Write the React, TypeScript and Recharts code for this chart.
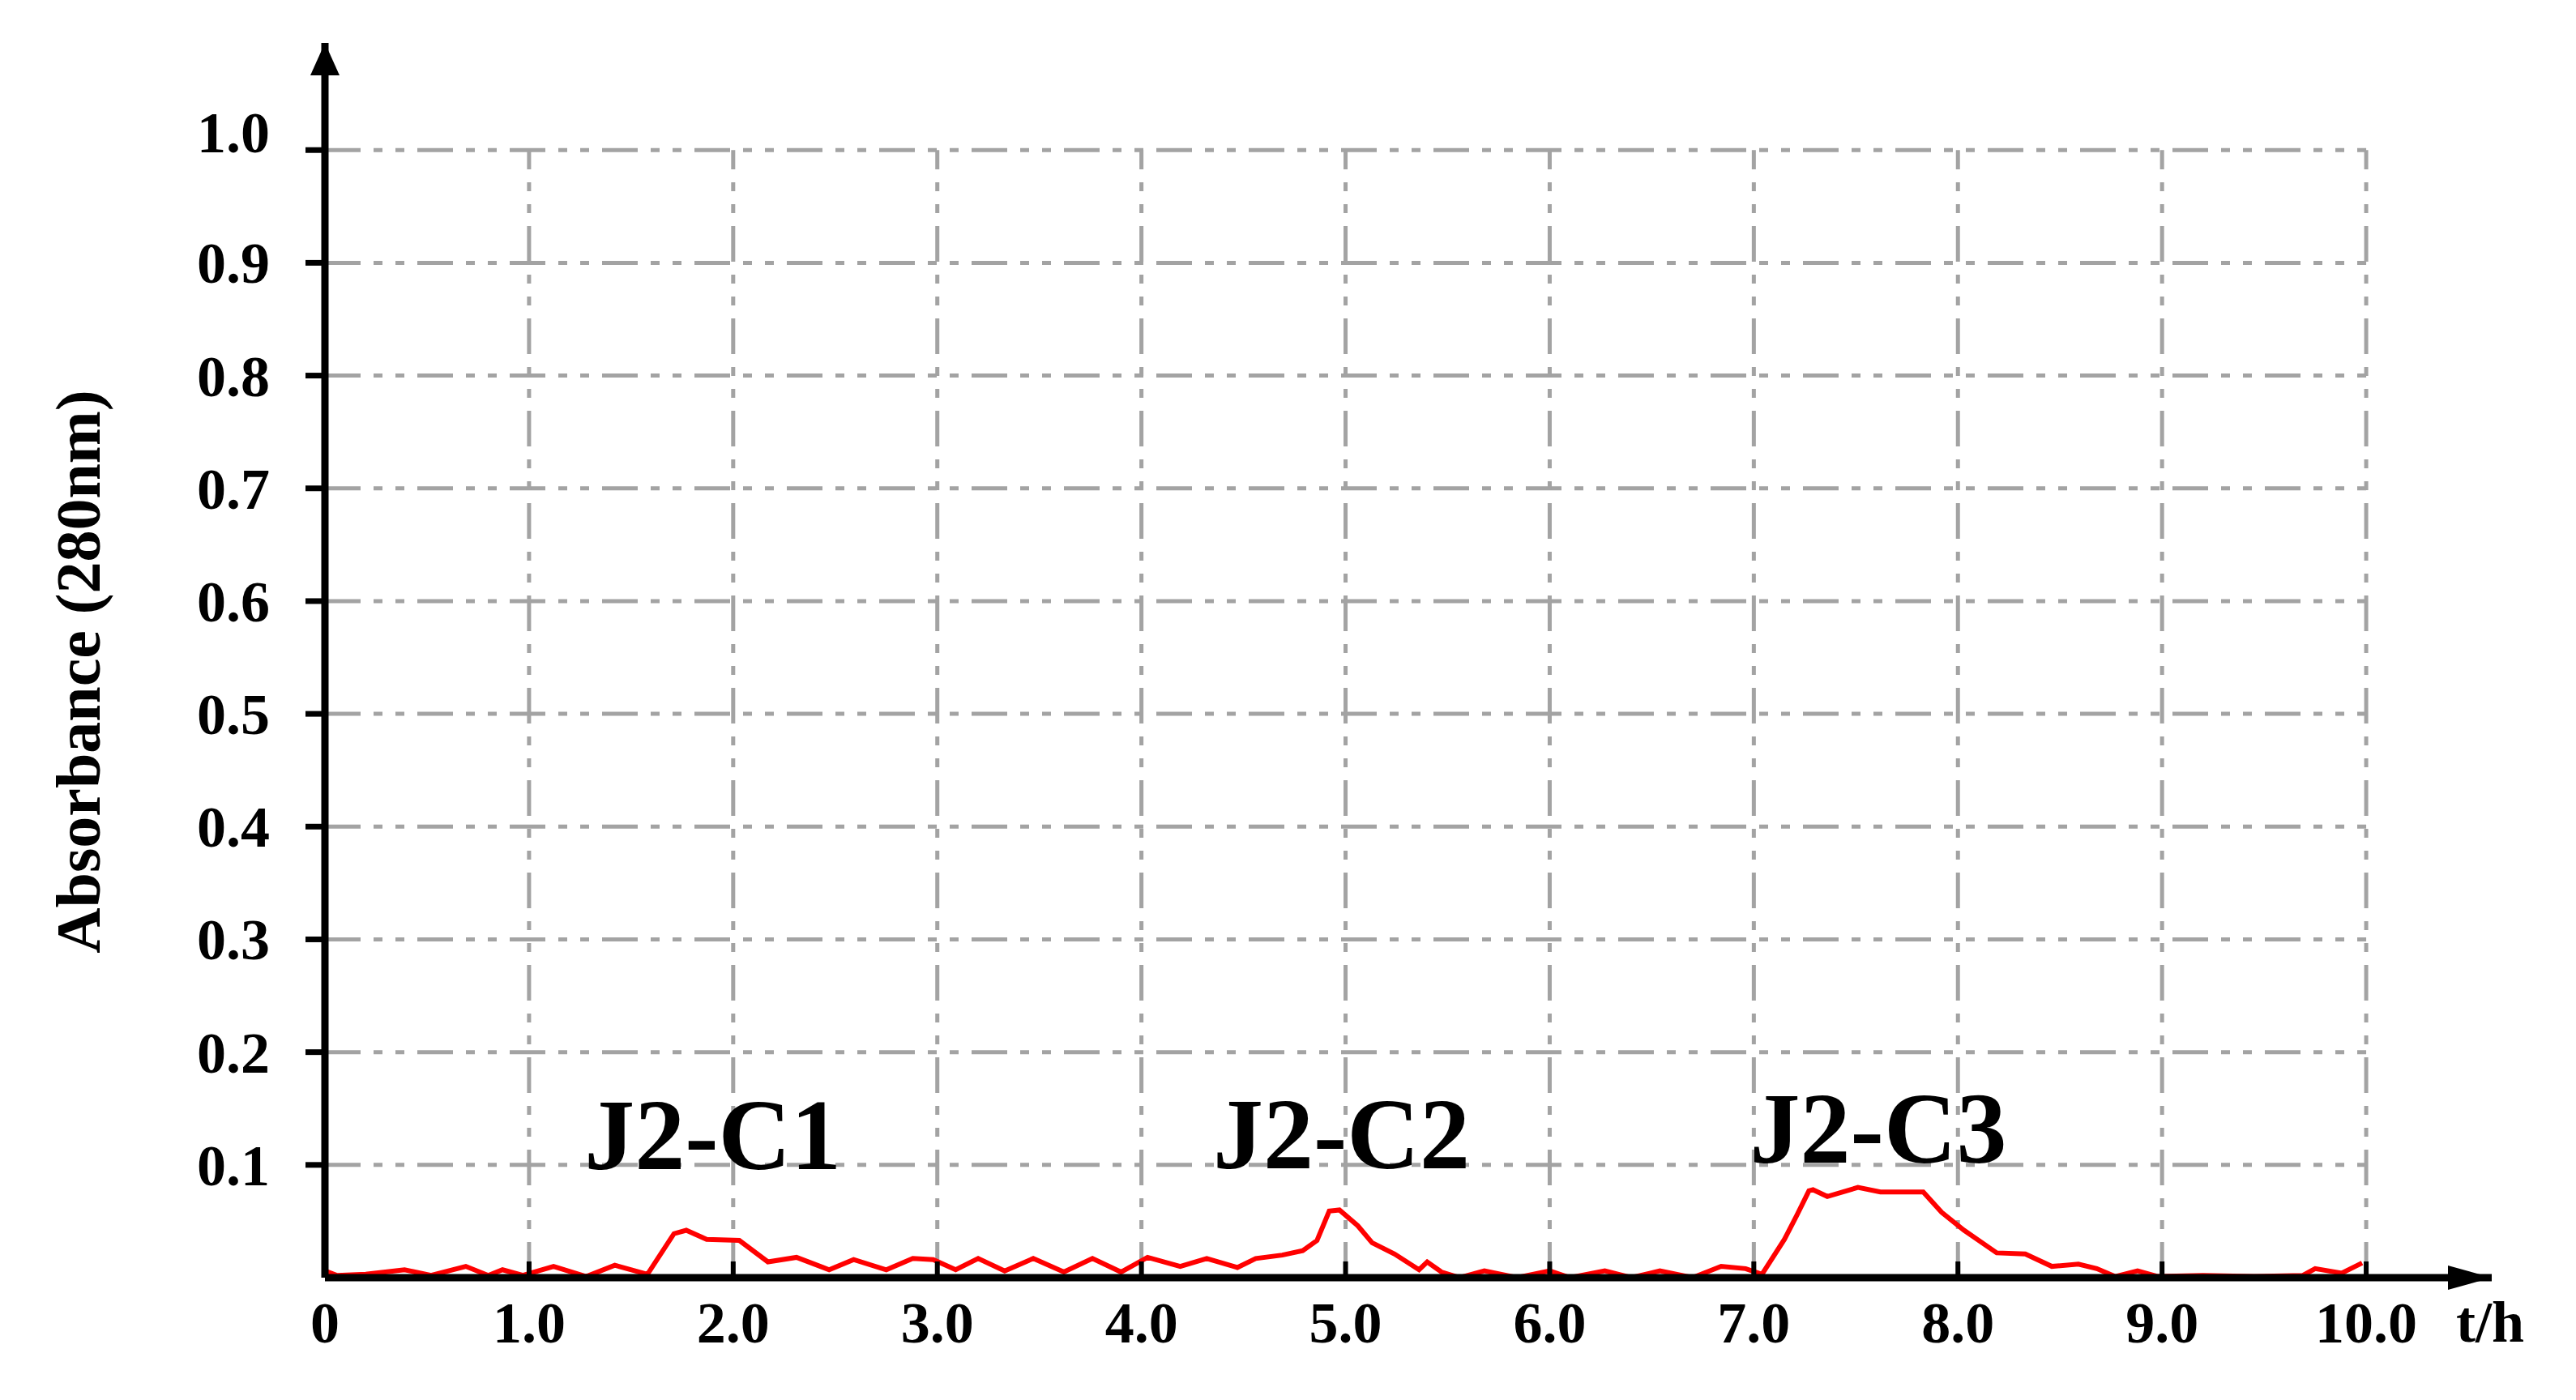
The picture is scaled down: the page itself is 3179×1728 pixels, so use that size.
import { LineChart, Line, XAxis, YAxis, ReferenceLine, ReferenceDot } from 'recharts';

// elution time (h) and absorbance at 280 nm
const times = [
  0, 0.06, 0.2, 0.39, 0.52, 0.69, 0.8, 0.87, 0.97, 1.12, 1.28, 1.42, 1.58, 1.71, 1.77, 1.87,
  2.03, 2.17, 2.31, 2.47, 2.59, 2.75, 2.88, 2.98, 3.09, 3.2, 3.33, 3.47, 3.62, 3.76, 3.9, 4.03,
  4.19, 4.32, 4.47, 4.56, 4.69, 4.79, 4.86, 4.92, 4.97, 5.06, 5.13, 5.24, 5.36, 5.4, 5.47, 5.56,
  5.68, 5.84, 6.0, 6.1, 6.27, 6.4, 6.54, 6.7, 6.84, 6.96, 7.04, 7.15, 7.21, 7.27, 7.29, 7.36,
  7.51, 7.62, 7.83, 7.92, 8.03, 8.19, 8.33, 8.46, 8.59, 8.68, 8.77, 8.88, 8.98, 9.2, 9.45, 9.69,
  9.75, 9.88, 9.98,
];
const absorbance = [
  0.006, 0.002, 0.003, 0.007, 0.002, 0.01, 0.002, 0.007, 0.002, 0.01, 0.001, 0.011, 0.003, 0.039, 0.042, 0.034,
  0.033, 0.014, 0.018, 0.007, 0.016, 0.007, 0.017, 0.016, 0.007, 0.017, 0.006, 0.017, 0.005, 0.017, 0.005, 0.018,
  0.01, 0.017, 0.009, 0.017, 0.02, 0.024, 0.033, 0.059, 0.06, 0.046, 0.031, 0.021, 0.007, 0.014, 0.005, 0.0,
  0.006, 0.0, 0.006, 0.0, 0.006, 0.0, 0.006, 0.0, 0.01, 0.008, 0.003, 0.034, 0.055, 0.077, 0.078, 0.072,
  0.08, 0.076, 0.076, 0.058, 0.042, 0.022, 0.021, 0.01, 0.012, 0.008, 0.001, 0.006, 0.001, 0.002, 0.001, 0.002,
  0.008, 0.004, 0.013,
];

const xTicks = [0, 1, 2, 3, 4, 5, 6, 7, 8, 9, 10];
const yTicks = [0.1, 0.2, 0.3, 0.4, 0.5, 0.6, 0.7, 0.8, 0.9, 1.0];
const peakNames = ['J2-C1', 'J2-C2', 'J2-C3'];
const peakX = [1.9, 4.98, 7.61];
const peakY = [0.096, 0.097, 0.102];

const X_MAX = 10.615;
const Y_MAX = 1.095;

const rows = times.map((t, i) => ({ t, a: absorbance[i] }));

const FONT = '"Liberation Serif", "Times New Roman", serif';
const GRID = { stroke: '#a3a3a3', strokeWidth: 5, strokeDasharray: '44 16 11 16 11 16' };

const fmtX = (v: number) => (v === 0 ? '0' : v.toFixed(1));

const YTick = (props: any) => {
  const { x, y, payload } = props;
  const lift = payload.value >= 1 ? -22 : 0;
  return (
    <text x={x} y={y + lift + 25} textAnchor="end" fontFamily={FONT} fontWeight="bold" fontSize={72} fill="#000">
      {payload.value.toFixed(1)}
    </text>
  );
};

const YTitle = () => (
  <text
    x={123}
    y={829}
    transform="rotate(-90, 123, 829)"
    textAnchor="middle"
    fontFamily={FONT}
    fontWeight="bold"
    fontSize={78}
    fill="#000"
  >
    Absorbance (280nm)
  </text>
);

const XTitle = () => (
  <text x={3073} y={1656} textAnchor="middle" fontFamily={FONT} fontWeight="bold" fontSize={72} fill="#000">
    t/h
  </text>
);

export default function App() {
  return (
    <div style={{ position: 'absolute', left: 0, top: 0, width: 3179, height: 1728, background: '#fff' }}>
      <LineChart width={3179} height={1728} data={rows} margin={{ top: 53, right: 104, left: 0, bottom: 51 }}>
        {yTicks.map((v) => (
          <ReferenceLine key={'h' + v} segment={[{ x: 0, y: v }, { x: 10, y: v }]} ifOverflow="visible" {...GRID} />
        ))}
        {xTicks.slice(1).map((v) => (
          <ReferenceLine key={'v' + v} segment={[{ x: v, y: 0 }, { x: v, y: 1 }]} ifOverflow="visible" {...GRID} />
        ))}
        <XAxis
          type="number"
          dataKey="t"
          domain={[0, X_MAX]}
          ticks={xTicks}
          allowDataOverflow
          tickFormatter={fmtX}
          height={100}
          tickSize={-20}
          tickMargin={49}
          axisLine={{ stroke: '#000', strokeWidth: 9 }}
          tickLine={{ stroke: '#000', strokeWidth: 6 }}
          tick={{ fontFamily: FONT, fontWeight: 'bold', fontSize: 72, fill: '#000' }}
          label={<XTitle />}
        />
        <YAxis
          type="number"
          domain={[0, Y_MAX]}
          ticks={yTicks}
          allowDataOverflow
          width={401}
          tickSize={24}
          tickMargin={44}
          axisLine={{ stroke: '#000', strokeWidth: 9 }}
          tickLine={{ stroke: '#000', strokeWidth: 7 }}
          tick={<YTick />}
          label={<YTitle />}
        />
        <Line type="linear" dataKey="a" stroke="#ff0000" strokeWidth={6} dot={false} isAnimationActive={false} />
        {peakNames.map((name, i) => (
          <ReferenceDot
            key={name}
            x={peakX[i]}
            y={peakY[i]}
            r={0}
            ifOverflow="visible"
            shape={(s: any) => (
              <text
                x={s.cx}
                y={s.cy}
                textAnchor="middle"
                fontFamily={FONT}
                fontWeight="bold"
                fontSize={124}
                fill="#000"
              >
                {name}
              </text>
            )}
          />
        ))}
        <ReferenceDot
          x={X_MAX}
          y={0}
          r={0}
          ifOverflow="visible"
          shape={(s: any) => (
            <polygon points={`${s.cx},${s.cy} ${s.cx - 54},${s.cy - 15} ${s.cx - 54},${s.cy + 15}`} fill="#000" />
          )}
        />
        <ReferenceDot
          x={0}
          y={Y_MAX}
          r={0}
          ifOverflow="visible"
          shape={(s: any) => (
            <polygon points={`${s.cx},${s.cy} ${s.cx - 18},${s.cy + 40} ${s.cx + 18},${s.cy + 40}`} fill="#000" />
          )}
        />
      </LineChart>
    </div>
  );
}
